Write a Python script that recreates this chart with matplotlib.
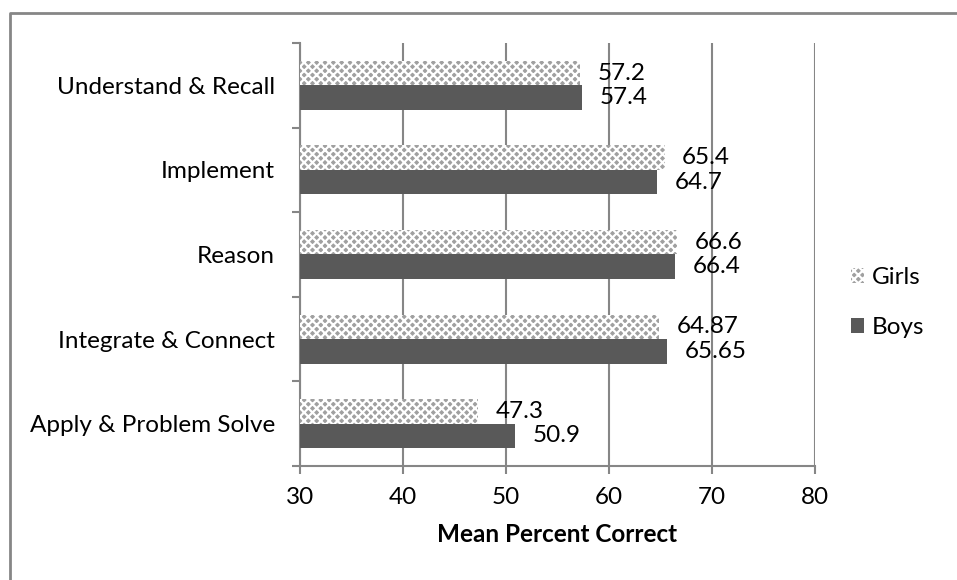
import numpy as np
import matplotlib.pyplot as plt
from matplotlib.lines import Line2D

plt.rcParams['font.family'] = ['Lato', 'DejaVu Sans']
plt.rcParams['hatch.linewidth'] = 1.6

categories = ['Understand & Recall', 'Implement', 'Reason',
              'Integrate & Connect', 'Apply & Problem Solve']
girls = [57.2, 65.4, 66.6, 64.87, 47.3]
boys = [57.4, 64.7, 66.4, 65.65, 50.9]
xticks = [30, 40, 50, 60, 70, 80]

fs = 17.5

fig = plt.figure(figsize=(9.57, 5.8), dpi=100)
ax = fig.add_axes([0.3135, 0.1966, 0.5381, 0.7293])

n = len(categories)
y = np.arange(n)[::-1].astype(float)
h = 0.29

gb = ax.barh(y + h / 2, np.array(girls) - 30, left=30, height=h,
             color='#a0a0a0', edgecolor='white', hatch='xxxx', linewidth=0,
             label='Girls', zorder=3)
bb = ax.barh(y - h / 2, np.array(boys) - 30, left=30, height=h,
             color='#595959', label='Boys', zorder=3)

for bars, vals in [(gb, girls), (bb, boys)]:
    for b, v in zip(bars, vals):
        ax.text(v + 1.7, b.get_y() + b.get_height() / 2, '%g' % v,
                va='center', ha='left', fontsize=fs, zorder=4)

ax.set_xlim(30, 80)
ax.set_ylim(-0.5, n - 0.5)
ax.set_xticks(xticks)
ax.tick_params(axis='x', labelsize=fs, length=6, width=1.5, color='#868686', pad=9)
ax.xaxis.grid(True, color='#868686', linewidth=1.5, zorder=0)

ax.set_yticks(np.arange(n + 1) - 0.5)
ax.set_yticklabels([])
ax.set_yticks(y, minor=True)
ax.set_yticklabels(categories, minor=True, fontsize=fs)
ax.tick_params(axis='y', which='major', length=6, width=1.5, color='#868686')
ax.tick_params(axis='y', which='minor', length=0, pad=18)

for s in ['top', 'right']:
    ax.spines[s].set_visible(False)
for s in ['left', 'bottom']:
    ax.spines[s].set_color('#868686')
    ax.spines[s].set_linewidth(1.5)

ax.set_xlabel('Mean Percent Correct', fontsize=fs, fontweight='bold', labelpad=11)

fig.legend(handles=[gb, bb], labels=['Girls', 'Boys'], loc='center left',
           bbox_to_anchor=(0.889, 0.478), frameon=False, fontsize=fs,
           handlelength=0.55, handleheight=0.55, handletextpad=0.3, labelspacing=1.2,
           borderpad=0, borderaxespad=0)

# outer chart frame (left and top edges visible)
fig.add_artist(Line2D([0.0104, 0.0104, 1.0], [0.0, 0.9776, 0.9776],
                      transform=fig.transFigure, color='#868686', linewidth=2))

fig.savefig('out.png', dpi=100)
